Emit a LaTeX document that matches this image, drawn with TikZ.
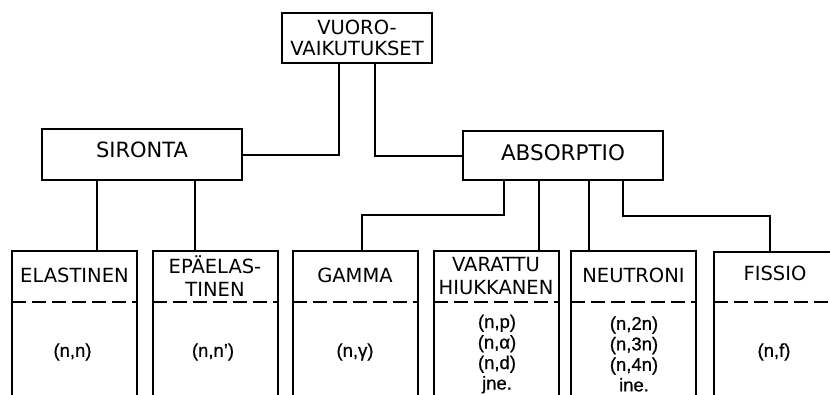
\documentclass[tikz,border=0pt]{standalone}
\usepackage{fontspec}
\setmainfont{DejaVu Sans}
\newfontfamily\valfont[FakeBold=0.7]{Liberation Sans}
\begin{document}
\begin{tikzpicture}[x=1pt,y=-1pt,line width=2pt,
  hbox/.style={draw,rectangle,inner sep=0pt,outer sep=0pt,align=center},
  colbox/.style={draw,rectangle,inner sep=0pt,outer sep=0pt,minimum width=125pt,minimum height=160pt,anchor=north},
  head/.style={font=\fontsize{19.5}{23}\selectfont,align=center,inner sep=0pt},
  val/.style={font=\valfont\fontsize{18.5}{20.5}\selectfont,align=center,inner sep=0pt},
  divline/.style={dash pattern=on 14pt off 6pt}]
\useasboundingbox (0,0) rectangle (830,394);
\clip (0,0) rectangle (830,394);
% top level
\node[hbox,minimum width=150pt,minimum height=50pt,font=\fontsize{19.5}{21.7}\selectfont] (vu) at (357,38) {VUORO-\\VAIKUTUKSET};
\node[hbox,minimum width=200pt,minimum height=51pt,font=\fontsize{21}{23}\selectfont,text height=14.6pt,text depth=9pt] (sir) at (142,154.5) {SIRONTA};
\node[hbox,minimum width=200pt,minimum height=49pt,font=\fontsize{21.5}{23}\selectfont,text height=15.5pt,text depth=5pt] (abs) at (563,155.5) {ABSORPTIO};
% columns
\node[colbox] (el) at (74.5,251) {};
\node[colbox] (ep) at (215,251) {};
\node[colbox] (ga) at (355,251) {};
\node[colbox] (va) at (496,251) {};
\node[colbox] (ne) at (633.5,251) {};
\node[colbox] (fi) at (776,252) {};
% headers
\node[head] (elh) at (74.5,275) {ELASTINEN};
\node[head] (eph) at (215,276) {EPÄELAS-\\TINEN};
\node[head] (gah) at (355,275) {GAMMA};
\node[head] (vah) at (496,276.5) {VARATTU\\HIUKKANEN};
\node[head] (neh) at (633.5,275) {NEUTRONI};
\node[head] (fih) at (775,273.5) {FISSIO};
% dashed dividers
\coordinate (dl) at (0,302);
\foreach \b in {el,ep,ga,va,ne,fi}
  \draw[divline] (\b.west |- dl) -- (\b.east |- dl);
% values
\node[val] (elv) at (72.5,352) {(n,n)};
\node[val] (epv) at (213,352) {(n,n’)};
\node[val] (gav) at (355,352) {(n,γ)};
\node[val] (vav) at (497,354) {(n,p)\\(n,α)\\(n,d)\\jne.};
\node[val] (nev) at (634,354) {(n,2n)\\(n,3n)\\(n,4n)\\ine.};
\node[val] (fiv) at (774,352) {(n,f)};
% connector coordinates
\coordinate (c1) at (339,0);
\coordinate (c2) at (375,0);
\coordinate (c3) at (97,0);
\coordinate (c4) at (195,0);
\coordinate (c5) at (504,0);
\coordinate (c6) at (539,0);
\coordinate (c7) at (589,0);
\coordinate (c8) at (623,0);
\coordinate (c9) at (362,0);
\coordinate (c10) at (770,0);
\coordinate (h1) at (0,215);
\coordinate (h2) at (0,216);
% connectors
\draw (vu.south -| c1) |- (sir.east);
\draw (vu.south -| c2) |- (abs.west);
\draw (sir.south -| c3) -- (el.north -| c3);
\draw (sir.south -| c4) -- (ep.north -| c4);
\draw (abs.south -| c5) |- (h1 -| c9) -- (ga.north -| c9);
\draw (abs.south -| c6) -- (va.north -| c6);
\draw (abs.south -| c7) -- (ne.north -| c7);
\draw (abs.south -| c8) |- (h2 -| c10) -- (fi.north -| c10);
\end{tikzpicture}
\end{document}
